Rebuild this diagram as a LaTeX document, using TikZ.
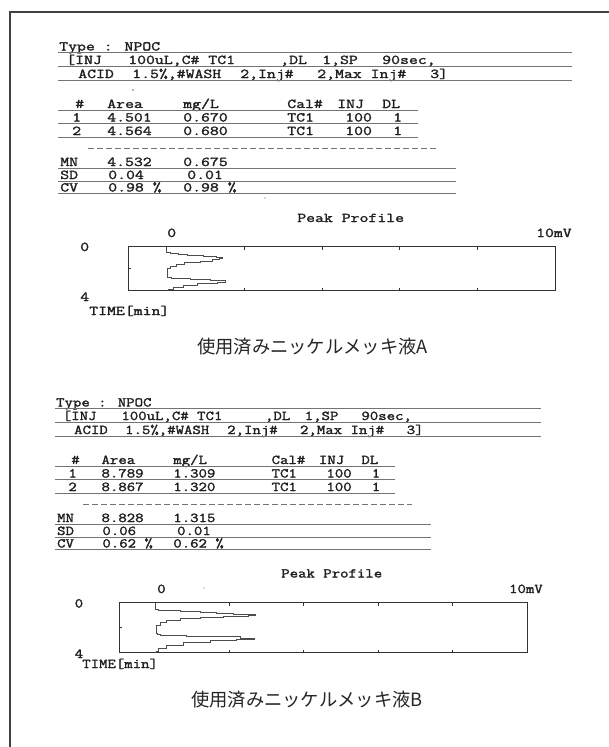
\documentclass[tikz,border=0pt]{standalone}
\usepackage{fontspec}
\newfontfamily\lpfont{Latin Modern Mono}[FakeBold=1.6]
\newfontfamily\jpfont{Noto Sans CJK JP}
\begin{document}
\begin{tikzpicture}[x=1pt,y=-1pt,
  print text/.style={anchor=base west,inner sep=0pt,text height=9pt,text depth=2pt,text=black!88,font=\lpfont\fontsize{13.5}{13.5}\selectfont},
  print node/.style={print text,xscale=1.28},
  narrow node/.style={print text,xscale=1.21},
  rule/.style={black!55,line width=0.7pt},
  dash rule/.style={rule,dash pattern=on 6pt off 3pt},
  chart/.style={black!80,line width=0.9pt},
  trace/.style={black!70,line width=0.6pt},
  caption/.style={inner sep=0pt,text=black!85,font=\jpfont\fontsize{18.3}{18.3}\selectfont}]

  \useasboundingbox (0,0) rectangle (609,747);
  \draw[black!75,line width=1.1pt] (10,747) -- (10,12) -- (609,12);

  \node[print node] (a-type) at (59,50.5) {Type : NPOC};
  \node[print node] (a-inj) at (66,64) {[INJ};
  \node[print node] (a-vol) at (128,64) {100uL,C\# TC1};
  \node[print node] (a-dl) at (280,64) {,DL};
  \node[print node] (a-sp) at (322,64) {1,SP};
  \node[print node] (a-sec) at (382,64) {90sec,};
  \node[print node] (a-acid) at (78,78) {ACID};
  \node[print node] (a-wash) at (132,78) {1.5\%,\#WASH};
  \node[print node] (a-inj2) at (240,78) {2,Inj\#};
  \node[print node] (a-max) at (317,78) {2,Max Inj\#};
  \node[print node] (a-max3) at (430,78) {3]};

  \node[print node] (a-h1) at (75,108) {\#};
  \node[print node] (a-h2) at (107,108) {Area};
  \node[print node] (a-h3) at (183,108) {mg/L};
  \node[print node] (a-h4) at (287,108) {Cal\#};
  \node[print node] (a-h5) at (337,108) {INJ};
  \node[print node] (a-h6) at (382,108) {DL};
  \node[print node] (a-r11) at (72,121.5) {1};
  \node[print node] (a-r12) at (107,121.5) {4.501};
  \node[print node] (a-r13) at (183,121.5) {0.670};
  \node[print node] (a-r14) at (287,121.5) {TC1};
  \node[print node] (a-r15) at (345,121.5) {100};
  \node[print node] (a-r16) at (393,121.5) {1};
  \node[print node] (a-r21) at (72,135) {2};
  \node[print node] (a-r22) at (107,135) {4.564};
  \node[print node] (a-r23) at (183,135) {0.680};
  \node[print node] (a-r24) at (287,135) {TC1};
  \node[print node] (a-r25) at (345,135) {100};
  \node[print node] (a-r26) at (393,135) {1};
  \node[print node] (a-mn1) at (60,166) {MN};
  \node[print node] (a-mn2) at (107,166) {4.532};
  \node[print node] (a-mn3) at (183,166) {0.675};
  \node[print node] (a-sd1) at (60,179) {SD};
  \node[print node] (a-sd2) at (108,179) {0.04};
  \node[print node] (a-sd3) at (187,179) {0.01};
  \node[print node] (a-cv1) at (60,191.5) {CV};
  \node[print node] (a-cv2) at (108,191.5) {0.98 \%};
  \node[print node] (a-cv3) at (183,191.5) {0.98 \%};

  \draw[rule] (58,52.5) -- (572,52.5) (58,66) -- (572,66) (58,80) -- (572,80)
    (58,110) -- (418,110) (58,123.5) -- (418,123.5) (58,137) -- (418,137)
    (58,168) -- (456,168) (58,181) -- (456,181) (58,193.5) -- (456,193.5);
  \draw[dash rule] (88,148) -- (436,148);
  \fill[black!60] (133,90) circle (0.9) (265,198) circle (0.6) (204,588) circle (0.6);

  \node[print node] (a-peak) at (297,222) {Peak Profile};
  \node[print node] (a-zero) at (167,237) {0};
  \node[print node,anchor=base east] (a-mv) at (572,237) {10mV};
  \node[print node] (a-t0) at (80,251) {0};
  \node[print node] (a-t4) at (80,301) {4};
  \node[print node] (a-time) at (89,315) {TIME[min]};
  \draw[chart] (128,246.7) rectangle (555,290.7);
  \draw[chart] (244.6,246.7) -- ++(0,3) (322.2,246.7) -- ++(0,3)
    (399.8,246.7) -- ++(0,3) (477.4,246.7) -- ++(0,3)
    (244.6,290.7) -- ++(0,-3) (322.2,290.7) -- ++(0,-3)
    (399.8,290.7) -- ++(0,-3) (477.4,290.7) -- ++(0,-3)
    (128,268.7) -- ++(3,0);
  \draw[trace] (166.7,246.7) |- (170,252) |- (178,253.3) |- (187,254.3)
    |- (203,255.2) |- (216.7,256.1) |- (222.7,257.2) |- (219,258.3)
    |- (212,259.6) |- (200,261) |- (184,262.6) |- (176.7,264) |- (170,266)
    |- (167,268) |- (167.5,275.5) |- (171,276.8) |- (190,278.2)
    |- (210,279.4) |- (225,280.6) |- (217,282) |- (197,283.3) |- (183,285)
    |- (173,287.3) |- (168,289.5) -- (168,290.7);
  \node[caption] (a-cap) at (312.5,346.5) {使用済みニッケルメッキ液A};

  \node[narrow node] (b-type) at (55.9,406.5) {Type : NPOC};
  \node[narrow node] (b-inj) at (62.6,420) {[INJ};
  \node[narrow node] (b-vol) at (121.2,420) {100uL,C\# TC1};
  \node[narrow node] (b-dl) at (264.8,420) {,DL};
  \node[narrow node] (b-sp) at (304.5,420) {1,SP};
  \node[narrow node] (b-sec) at (361.2,420) {90sec,};
  \node[narrow node] (b-acid) at (73.9,434) {ACID};
  \node[narrow node] (b-wash) at (124.9,434) {1.5\%,\#WASH};
  \node[narrow node] (b-inj2) at (227,434) {2,Inj\#};
  \node[narrow node] (b-max) at (299.8,434) {2,Max Inj\#};
  \node[narrow node] (b-max3) at (406.5,434) {3]};

  \node[narrow node] (b-h1) at (71.1,464) {\#};
  \node[narrow node] (b-h2) at (101.3,464) {Area};
  \node[narrow node] (b-h3) at (173.1,464) {mg/L};
  \node[narrow node] (b-h4) at (271.4,464) {Cal\#};
  \node[narrow node] (b-h5) at (318.7,464) {INJ};
  \node[narrow node] (b-h6) at (361.2,464) {DL};
  \node[narrow node] (b-r11) at (68.2,477.5) {1};
  \node[narrow node] (b-r12) at (101.3,477.5) {8.789};
  \node[narrow node] (b-r13) at (173.1,477.5) {1.309};
  \node[narrow node] (b-r14) at (271.4,477.5) {TC1};
  \node[narrow node] (b-r15) at (326.2,477.5) {100};
  \node[narrow node] (b-r16) at (371.6,477.5) {1};
  \node[narrow node] (b-r21) at (68.2,491) {2};
  \node[narrow node] (b-r22) at (101.3,491) {8.867};
  \node[narrow node] (b-r23) at (173.1,491) {1.320};
  \node[narrow node] (b-r24) at (271.4,491) {TC1};
  \node[narrow node] (b-r25) at (326.2,491) {100};
  \node[narrow node] (b-r26) at (371.6,491) {1};
  \node[narrow node] (b-mn1) at (56.9,522) {MN};
  \node[narrow node] (b-mn2) at (101.3,522) {8.828};
  \node[narrow node] (b-mn3) at (173.1,522) {1.315};
  \node[narrow node] (b-sd1) at (56.9,535) {SD};
  \node[narrow node] (b-sd2) at (102.2,535) {0.06};
  \node[narrow node] (b-sd3) at (176.9,535) {0.01};
  \node[narrow node] (b-cv1) at (56.9,547.5) {CV};
  \node[narrow node] (b-cv2) at (102.2,547.5) {0.62 \%};
  \node[narrow node] (b-cv3) at (173.1,547.5) {0.62 \%};

  \draw[rule] (55,408.5) -- (540.7,408.5) (55,422) -- (540.7,422) (55,436) -- (540.7,436)
    (55,466) -- (395.2,466) (55,479.5) -- (395.2,479.5) (55,493) -- (395.2,493)
    (55,524) -- (431,524) (55,537) -- (431,537) (55,549.5) -- (431,549.5);
  \draw[dash rule] (83.3,504) -- (412.2,504);

  \node[narrow node] (b-peak) at (281,577.5) {Peak Profile};
  \node[narrow node] (b-zero) at (157,593) {0};
  \node[narrow node,anchor=base east] (b-mv) at (543,593) {10mV};
  \node[narrow node] (b-t0) at (74.5,607.5) {0};
  \node[narrow node] (b-t4) at (74.5,658) {4};
  \node[narrow node] (b-time) at (82,668) {TIME[min]};
  \draw[chart] (119,602.7) rectangle (527,652.7);
  \draw[chart] (229.4,602.7) -- ++(0,3) (303.8,602.7) -- ++(0,3)
    (378.2,602.7) -- ++(0,3) (452.6,602.7) -- ++(0,3)
    (229.4,652.7) -- ++(0,-3) (303.8,652.7) -- ++(0,-3)
    (378.2,652.7) -- ++(0,-3) (452.6,652.7) -- ++(0,-3)
    (119,627.7) -- ++(3,0);
  \draw[trace] (155,602.7) |- (158.3,609.3) |- (180,610.7) |- (200,611.7)
    |- (216.7,612.6) |- (233,613.3) |- (255,614.1) |- (248,615.3)
    |- (223,616.1) |- (200,617.3) |- (180,618.4) |- (166.7,620.7)
    |- (160,622.7) |- (156.7,625) |- (157.5,633.3) |- (160,634.3)
    |- (186.7,635) |- (220,635.8) |- (240,636.7) |- (254,638.3)
    |- (236.7,639.4) |- (210,640.7) |- (183.3,642.3) |- (166.7,645)
    |- (158.3,648.3) |- (156.7,651.7) -- (156.7,652.7);
  \node[caption] (b-cap) at (307,700) {使用済みニッケルメッキ液B};
\end{tikzpicture}
\end{document}
